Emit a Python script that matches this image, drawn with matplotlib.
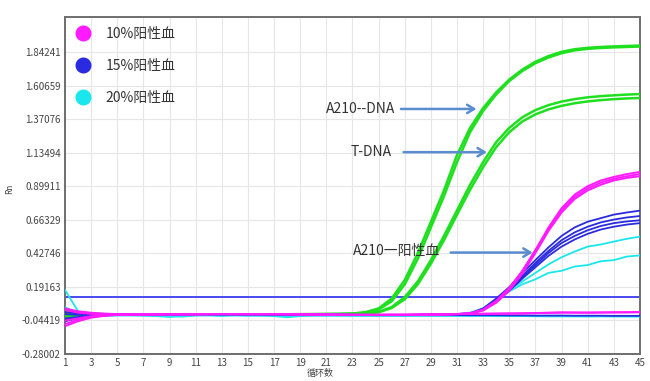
import matplotlib
matplotlib.use('Agg')
import matplotlib.pyplot as plt
from matplotlib.lines import Line2D

plt.rcParams['font.family'] = ['Noto Sans CJK SC', 'DejaVu Sans']

# ---------------- data ----------------
cycles = list(range(1, 46))
x_ticks = list(range(1, 46, 2))
y_tick_values = [-0.28002, -0.04419, 0.19163, 0.42746, 0.66329,
                 0.89911, 1.13494, 1.37076, 1.60659, 1.84241]
y_tick_labels = ['-0.28002', '-0.04419', '0.19163', '0.42746', '0.66329',
                 '0.89911', '1.13494', '1.37076', '1.60659', '1.84241']
threshold = 0.12

legend_labels = ['10%阳性血', '15%阳性血', '20%阳性血']
annotation_texts = ['A210--DNA', 'T-DNA', 'A210一阳性血']

a210_dna_1 = [0.03, 0.012, 0.004, 0.0, -0.002,
              -0.003, -0.003, -0.002, -0.002, -0.003,
              -0.002, -0.002, -0.003, -0.002, -0.002,
              -0.002, -0.002, -0.001, -0.001, 0.0,
              0.0, 0.001, 0.004, 0.014, 0.04,
              0.11, 0.24, 0.43, 0.65, 0.87,
              1.12, 1.31, 1.45, 1.56, 1.65,
              1.72, 1.775, 1.815, 1.845, 1.863,
              1.873, 1.879, 1.883, 1.886, 1.889]
a210_dna_2 = [-0.02, -0.01, -0.004, -0.002, -0.002,
              -0.002, -0.003, -0.003, -0.002, -0.002,
              -0.002, -0.003, -0.002, -0.002, -0.002,
              -0.002, -0.001, -0.001, 0.0, 0.0,
              0.0, 0.001, 0.003, 0.011, 0.033,
              0.09, 0.21, 0.39, 0.61, 0.83,
              1.07, 1.28, 1.43, 1.545, 1.64,
              1.71, 1.765, 1.805, 1.835, 1.855,
              1.866, 1.872, 1.876, 1.879, 1.882]
t_dna_1 = [0.01, 0.005, 0.0, -0.002, -0.002,
           -0.002, -0.002, -0.002, -0.002, -0.002,
           -0.002, -0.002, -0.002, -0.002, -0.002,
           -0.002, -0.002, -0.001, -0.001, -0.001,
           0.0, 0.0, 0.001, 0.004, 0.016,
           0.05, 0.12, 0.23, 0.38, 0.55,
           0.73, 0.91, 1.07, 1.21, 1.31,
           1.385, 1.435, 1.47, 1.495, 1.512,
           1.525, 1.533, 1.539, 1.544, 1.548]
t_dna_2 = [-0.01, -0.006, -0.003, -0.002, -0.002,
           -0.002, -0.002, -0.002, -0.002, -0.002,
           -0.002, -0.002, -0.002, -0.002, -0.002,
           -0.002, -0.002, -0.001, -0.001, -0.001,
           0.0, 0.0, 0.0, 0.003, 0.013,
           0.043, 0.105, 0.21, 0.355, 0.52,
           0.70, 0.875, 1.035, 1.175, 1.28,
           1.355, 1.405, 1.44, 1.465, 1.483,
           1.496, 1.505, 1.512, 1.517, 1.52]

pos10_1 = [-0.07, -0.04, -0.02, -0.01, -0.005,
           -0.003, -0.002, -0.002, -0.001, -0.001,
           -0.001, 0.0, 0.0, 0.0, -0.001,
           -0.001, 0.0, 0.0, -0.001, -0.002,
           -0.003, -0.004, -0.005, -0.006, -0.006,
           -0.006, -0.006, -0.006, -0.005, -0.003,
           0.0, 0.006, 0.03, 0.09, 0.18,
           0.30, 0.45, 0.61, 0.745, 0.84,
           0.90, 0.94, 0.965, 0.985, 1.0]
pos10_2 = [-0.045, -0.03, -0.015, -0.008, -0.004,
           -0.002, -0.001, 0.0, 0.0, 0.0,
           0.0, 0.0, 0.001, 0.0, 0.0,
           0.0, -0.001, -0.001, -0.002, -0.003,
           -0.004, -0.005, -0.006, -0.006, -0.007,
           -0.007, -0.007, -0.006, -0.005, -0.003,
           0.0, 0.004, 0.025, 0.08, 0.165,
           0.285, 0.43, 0.585, 0.715, 0.81,
           0.87, 0.91, 0.94, 0.958, 0.97]
pos10_3 = [0.03, 0.01, 0.002, -0.002, -0.003,
           -0.002, -0.002, -0.001, -0.001, 0.0,
           0.0, 0.0, 0.0, 0.0, 0.0,
           0.0, 0.0, -0.001, -0.002, -0.003,
           -0.004, -0.005, -0.005, -0.006, -0.006,
           -0.006, -0.006, -0.005, -0.004, -0.002,
           0.001, 0.007, 0.032, 0.095, 0.185,
           0.305, 0.45, 0.60, 0.73, 0.825,
           0.885, 0.925, 0.952, 0.97, 0.985]
neg10_1 = [0.04, 0.02, 0.01, 0.004, 0.0,
           -0.002, -0.003, -0.003, -0.002, -0.002,
           -0.001, -0.001, 0.0, 0.0, 0.0,
           0.0, -0.001, -0.001, -0.002, -0.002,
           -0.003, -0.004, -0.004, -0.004, -0.004,
           -0.003, -0.003, -0.002, -0.001, 0.0,
           0.001, 0.002, 0.003, 0.004, 0.005,
           0.006, 0.008, 0.01, 0.012, 0.012,
           0.011, 0.012, 0.013, 0.014, 0.015]
neg10_2 = [-0.085, -0.05, -0.025, -0.012, -0.006,
           -0.004, -0.003, -0.002, -0.002, -0.001,
           -0.001, 0.0, 0.0, 0.0, 0.0,
           0.0, 0.0, 0.0, -0.001, -0.002,
           -0.003, -0.003, -0.004, -0.004, -0.004,
           -0.003, -0.003, -0.002, -0.002, -0.001,
           0.0, 0.001, 0.002, 0.003, 0.004,
           0.005, 0.007, 0.009, 0.011, 0.01,
           0.01, 0.011, 0.012, 0.012, 0.013]

pos15_1 = [-0.03, -0.02, -0.012, -0.006, -0.003,
           -0.002, -0.002, -0.001, -0.001, 0.0,
           0.0, -0.001, -0.001, 0.0, 0.0,
           -0.001, -0.001, -0.002, -0.002, -0.003,
           -0.004, -0.004, -0.005, -0.005, -0.006,
           -0.006, -0.006, -0.005, -0.004, -0.002,
           0.0, 0.005, 0.04, 0.11, 0.19,
           0.29, 0.38, 0.47, 0.55, 0.61,
           0.65, 0.675, 0.70, 0.715, 0.728]
pos15_2 = [0.0, -0.005, -0.006, -0.005, -0.004,
           -0.003, -0.002, -0.002, -0.001, -0.001,
           0.0, 0.0, -0.001, -0.001, 0.0,
           0.0, -0.001, -0.002, -0.002, -0.003,
           -0.004, -0.005, -0.005, -0.006, -0.006,
           -0.006, -0.006, -0.005, -0.004, -0.002,
           0.0, 0.004, 0.035, 0.10, 0.18,
           0.27, 0.36, 0.445, 0.52, 0.575,
           0.615, 0.645, 0.665, 0.68, 0.69]
pos15_3 = [-0.05, -0.03, -0.015, -0.008, -0.004,
           -0.002, -0.002, -0.001, -0.001, -0.001,
           0.0, 0.0, 0.0, -0.001, -0.001,
           -0.001, -0.001, -0.002, -0.003, -0.003,
           -0.004, -0.005, -0.005, -0.006, -0.006,
           -0.006, -0.006, -0.005, -0.004, -0.002,
           0.0, 0.003, 0.03, 0.095, 0.17,
           0.26, 0.345, 0.43, 0.50, 0.55,
           0.59, 0.62, 0.64, 0.652, 0.66]
pos15_4 = [0.015, 0.004, -0.002, -0.004, -0.003,
           -0.003, -0.002, -0.002, -0.001, -0.001,
           0.0, 0.0, 0.0, 0.0, -0.001,
           -0.001, -0.002, -0.002, -0.003, -0.003,
           -0.004, -0.005, -0.006, -0.006, -0.006,
           -0.006, -0.006, -0.005, -0.004, -0.002,
           0.0, 0.003, 0.03, 0.09, 0.165,
           0.25, 0.33, 0.41, 0.475, 0.525,
           0.565, 0.595, 0.615, 0.63, 0.64]
neg15_1 = [-0.04, -0.025, -0.015, -0.008, -0.005,
           -0.003, -0.003, -0.002, -0.002, -0.002,
           -0.003, -0.002, -0.002, -0.003, -0.003,
           -0.003, -0.003, -0.004, -0.004, -0.005,
           -0.005, -0.006, -0.006, -0.006, -0.007,
           -0.007, -0.007, -0.007, -0.007, -0.007,
           -0.007, -0.008, -0.008, -0.008, -0.009,
           -0.009, -0.01, -0.01, -0.01, -0.011,
           -0.011, -0.011, -0.012, -0.012, -0.012]

pos20_1 = [0.17, 0.02, -0.005, -0.006, -0.005,
           -0.004, -0.004, -0.006, -0.01, -0.018,
           -0.008, -0.004, -0.003, -0.004, -0.006,
           -0.004, -0.008, -0.015, -0.006, -0.004,
           -0.004, -0.005, -0.005, -0.006, -0.006,
           -0.006, -0.006, -0.005, -0.004, -0.002,
           0.0, 0.01, 0.04, 0.10, 0.17,
           0.23, 0.29, 0.35, 0.40, 0.44,
           0.475, 0.49, 0.51, 0.53, 0.545]
pos20_2 = [-0.045, -0.02, -0.01, -0.005, -0.004,
           -0.004, -0.005, -0.004, -0.006, -0.01,
           -0.006, -0.004, -0.012, -0.005, -0.004,
           -0.004, -0.006, -0.01, -0.005, -0.004,
           -0.004, -0.005, -0.005, -0.006, -0.006,
           -0.006, -0.006, -0.005, -0.004, -0.002,
           0.0, 0.01, 0.04, 0.10, 0.16,
           0.21, 0.245, 0.29, 0.305, 0.335,
           0.345, 0.372, 0.38, 0.405, 0.413]
neg20_1 = [0.05, 0.0, -0.01, -0.012, -0.01,
           -0.01, -0.012, -0.014, -0.02, -0.014,
           -0.01, -0.01, -0.012, -0.01, -0.012,
           -0.012, -0.014, -0.022, -0.014, -0.012,
           -0.012, -0.012, -0.013, -0.013, -0.013,
           -0.013, -0.013, -0.013, -0.013, -0.013,
           -0.013, -0.013, -0.013, -0.014, -0.014,
           -0.014, -0.015, -0.016, -0.016, -0.016,
           -0.017, -0.016, -0.017, -0.017, -0.018]

# ---------------- styles ----------------
GREEN = '#1fe01f'
MAGENTA = '#ff1aff'
BLUE = '#2a2ae0'
CYAN = '#1ae6ee'
THRESH = '#4a4af0'
ARROW = '#5b8ccf'

fig = plt.figure(figsize=(6.5, 3.81), dpi=100)
ax = fig.add_axes([0.1, 0.071, 0.8846, 0.8845])

# threshold line
ax.axhline(threshold, color=THRESH, lw=1.4, zorder=2)

for s in [a210_dna_1, a210_dna_2, t_dna_1, t_dna_2]:
    ax.plot(cycles, s, color=GREEN, lw=1.8, zorder=3)
for s in [neg20_1, pos20_1, pos20_2]:
    ax.plot(cycles, s, color=CYAN, lw=1.3, zorder=4)
for s in [neg15_1, pos15_1, pos15_2, pos15_3, pos15_4]:
    ax.plot(cycles, s, color=BLUE, lw=1.3, zorder=5)
for s in [neg10_1, neg10_2, pos10_1, pos10_2, pos10_3]:
    ax.plot(cycles, s, color=MAGENTA, lw=1.4, zorder=6)

ax.set_xlim(1, 45)
ax.set_ylim(-0.28002, 2.09)
ax.set_xticks(x_ticks)
ax.set_xticklabels([str(t) for t in x_ticks])
ax.set_yticks(y_tick_values)
ax.set_yticklabels(y_tick_labels)
ax.tick_params(axis='both', length=0, labelsize=7, colors='#444444', pad=3)
ax.grid(True, color='#e6e6e6', lw=0.8)
ax.set_axisbelow(True)
for sp in ax.spines.values():
    sp.set_color('#6e6e6e')
    sp.set_linewidth(1.4)

ax.set_ylabel('Rn', fontsize=6, color='#444444')
ax.yaxis.set_label_coords(-0.088, 0.49)
ax.set_xlabel('循环数', fontsize=6.5, color='#444444', va='center')
ax.xaxis.set_label_coords(0.443, -0.058)

# annotations
ann = [(annotation_texts[0], (26.3, 1.445), (26.5, 1.443), (32.7, 1.443)),
       (annotation_texts[1], (26.0, 1.139), (26.7, 1.139), (33.5, 1.139)),
       (annotation_texts[2], (29.7, 0.447), (30.3, 0.433), (37.0, 0.433))]
for text, tpos, start, end in ann:
    ax.text(tpos[0], tpos[1], text, ha='right', va='center', fontsize=10,
            color='#333333', zorder=8)
    ax.annotate('', xy=end, xytext=start,
                arrowprops=dict(arrowstyle='->,head_length=0.5,head_width=0.3',
                                color=ARROW, lw=1.8), zorder=8)

# legend
handles = [Line2D([], [], ls='none', marker='o', markersize=10.5,
                  markerfacecolor=c, markeredgecolor=c)
           for c in [MAGENTA, BLUE, CYAN]]
leg = ax.legend(handles, legend_labels, loc='upper left',
                bbox_to_anchor=(0.0, 1.0), frameon=False, fontsize=10,
                labelspacing=1.3, handletextpad=1.0, borderaxespad=0.3,
                handlelength=1.2)
for t in leg.get_texts():
    t.set_color('#333333')

fig.savefig('out.png', dpi=100)
